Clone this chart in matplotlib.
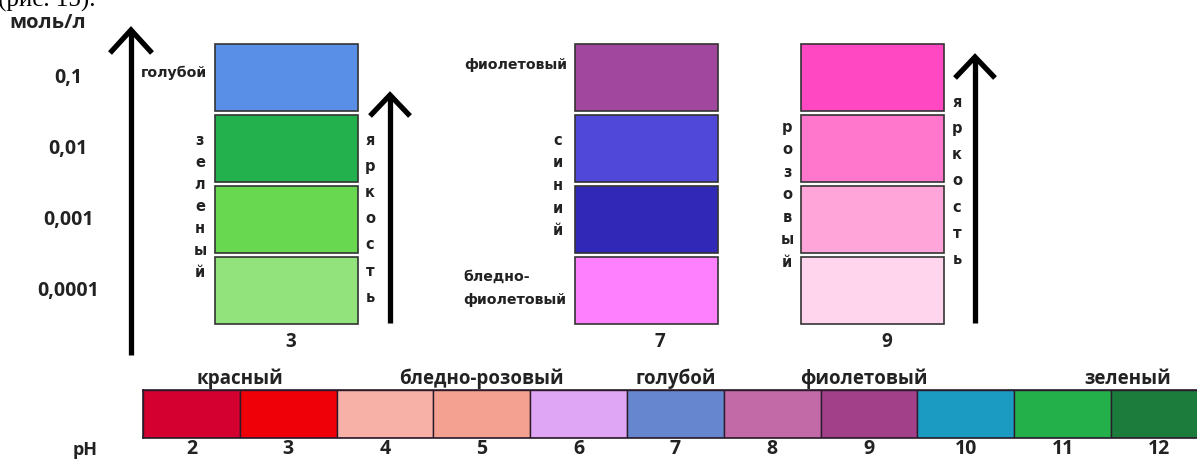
import matplotlib
matplotlib.use("Agg")
import matplotlib.pyplot as plt

# pH scale strip
PH_VALUES = [2, 3, 4, 5, 6, 7, 8, 9, 10, 11, 12]
PH_COLORS = ["#D4002F", "#EF0008", "#F7B1A6", "#F5A191", "#DEA6F5", "#6687CF",
             "#C26AA8", "#A2418A", "#1B9BC2", "#23B04B", "#1B7C3C"]
PH_NAMES = ["красный", "бледно-розовый", "голубой", "фиолетовый", "зеленый"]
PH_NAME_AT = [2.5, 5.0, 7.0, 8.95, 11.67]

# concentration columns
CONC_LABELS = ["0,1", "0,01", "0,001", "0,0001"]
COLUMN_PH = [3, 7, 9]
COLUMN_COLORS = [
    ["#5A8FE8", "#22B14C", "#67D84F", "#93E37C"],
    ["#A1479E", "#5048D8", "#3228B8", "#FF80FF"],
    ["#FF48C2", "#FF77CC", "#FFA5DA", "#FFD5EE"],
]

W, H = 1197, 461
TXT = "#222222"
SANS = ["Open Sans", "DejaVu Sans"]
SMALL = ["DejaVu Sans"]

fig = plt.figure(figsize=(W / 100, H / 100), dpi=100)

# strip axes in pH units (cells 96.8 px wide, starting at x=143)
cell = 96.8
left_px = 143
right_px = left_px + cell * len(PH_VALUES)
ax_ph = fig.add_axes([left_px / W, (H - 438) / H, (right_px - left_px) / W, 48 / H])
ax_ph.bar(PH_VALUES, 1, width=1, bottom=0, color=PH_COLORS,
          edgecolor="#2a1a2a", linewidth=1.0)
ax_ph.set_xlim(1.5, 12.5)
ax_ph.set_ylim(0, 1)
ax_ph.set_yticks([])
ax_ph.set_xticks(PH_VALUES)
ax_ph.set_xticklabels([str(v) for v in PH_VALUES], fontsize=14, fontweight="bold",
                      family=SANS, color=TXT)
ax_ph.tick_params(axis="x", length=0, pad=1)
for s in ax_ph.spines.values():
    s.set_linewidth(1.2)
    s.set_color("#2a1a2a")
for name, pos in zip(PH_NAMES, PH_NAME_AT):
    ax_ph.text(pos, 1.12, name, ha="center", va="baseline", fontsize=13.5,
               fontweight="bold", family=SANS, color=TXT,
               transform=ax_ph.get_xaxis_transform())

# overlay axes in pixel units
ax = fig.add_axes([0, 0, 1, 1])
ax.set_xlim(0, W)
ax.set_ylim(H, 0)
ax.axis("off")

col_centers = [286.5, 646, 872]
label_dx = [4, 14, 15]
col_w = 143
box_h = 67
level_y = [77.5 + 71 * i for i in range(len(CONC_LABELS))]

for cx, dx, colors, ph in zip(col_centers, label_dx, COLUMN_COLORS, COLUMN_PH):
    tops = [y - box_h / 2 for y in level_y]
    ax.bar([cx] * len(tops), box_h, width=col_w, bottom=tops, color=colors,
           edgecolor="#333333", linewidth=1.2)
    ax.text(cx + dx, 342, str(ph), ha="center", va="center", fontsize=13.5,
            fontweight="bold", family=SANS, color=TXT)

for lab, y in zip(CONC_LABELS, level_y):
    ax.text(68, y, lab, ha="center", va="center", fontsize=14,
            fontweight="bold", family=SANS, color=TXT)

ax.text(9, 23, "моль/л", ha="left", va="center", fontsize=14.5,
        fontweight="bold", family=SANS, color=TXT)
ax.text(85, 450, "pH", ha="center", va="center", fontsize=13,
        fontweight="bold", family=SANS, color=TXT)
ax.text(-2, 7, "(рис. 15).", ha="left", va="baseline", fontsize=18,
        family=["Liberation Serif"], color="black")


def up_arrow(x, y_bottom, y_tip, ww=21, wh=23):
    kw = dict(color="black", linewidth=3.8, solid_capstyle="butt",
              solid_joinstyle="miter")
    ax.plot([x, x], [y_bottom, y_tip + 2], **kw)
    ax.plot([x - ww, x, x + ww], [y_tip + wh, y_tip, y_tip + wh], **kw)


up_arrow(131, 355, 30)
up_arrow(390, 323, 95, 20, 21)
up_arrow(975, 323, 57, 20, 21)


def vertical_word(word, x, y0, step):
    for k, ch in enumerate(word):
        ax.text(x, y0 + k * step, ch, ha="center", va="center", fontsize=10.5,
                fontweight="bold", family=SMALL, color=TXT)


vertical_word("зеленый", 200, 140, 22)
vertical_word("яркость", 370, 140, 26.2)
vertical_word("синий", 558, 140, 22.7)
vertical_word("розовый", 787, 127, 22.5)
vertical_word("яркость", 957, 102, 26.3)

side_kw = dict(fontsize=10.2, fontweight="bold", family=SMALL, color=TXT)
ax.text(207, 73, "голубой", ha="right", va="center", **side_kw)
ax.text(567, 65, "фиолетовый", ha="right", va="center", **side_kw)
ax.text(463, 277, "бледно-", ha="left", va="center", **side_kw)
ax.text(463, 300, "фиолетовый", ha="left", va="center", **side_kw)

fig.savefig("out.png", dpi=100, facecolor="white")
